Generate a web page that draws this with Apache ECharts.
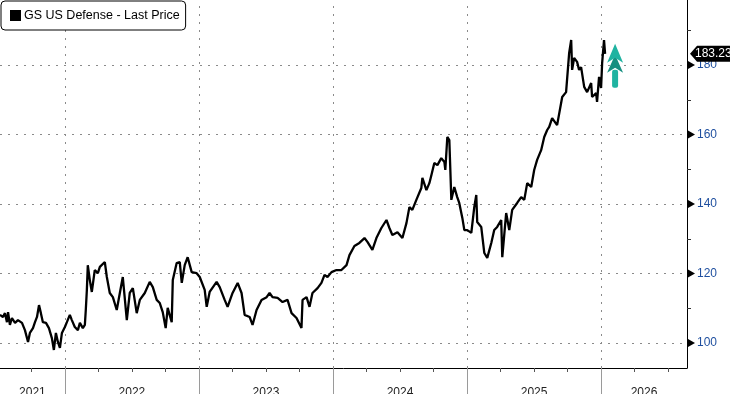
<!DOCTYPE html>
<html>
<head>
<meta charset="utf-8">
<script src="https://cdn.jsdelivr.net/npm/echarts@6/dist/echarts.min.js"></script>
<style>
html,body{margin:0;padding:0;background:#fff;}
#c{width:730px;height:394px;}
</style>
</head>
<body>
<div id="c"></div>
<script>
// ---- data (decimal year, last price) ----
const seriesName = 'GS US Defense - Last Price';
const years = [
2021.516,2021.538,2021.553,2021.568,2021.576,2021.590,2021.605,2021.628,2021.650,2021.680,
2021.702,2021.725,2021.739,2021.762,2021.777,2021.792,2021.807,2021.821,2021.836,2021.859,
2021.881,2021.903,2021.918,2021.933,2021.948,2021.963,2021.978,2022.000,2022.015,2022.037,
2022.052,2022.074,2022.097,2022.112,2022.134,2022.149,2022.156,2022.164,2022.171,2022.186,
2022.201,2022.223,2022.246,2022.261,2022.298,2022.313,2022.335,2022.358,2022.387,2022.410,
2022.432,2022.462,2022.484,2022.507,2022.536,2022.559,2022.596,2022.633,2022.656,2022.685,
2022.708,2022.730,2022.752,2022.767,2022.797,2022.805,2022.834,2022.857,2022.872,2022.894,
2022.916,2022.946,2022.983,2023.006,2023.043,2023.058,2023.080,2023.132,2023.155,2023.192,
2023.214,2023.251,2023.289,2023.318,2023.341,2023.378,2023.400,2023.430,2023.467,2023.505,
2023.527,2023.549,2023.587,2023.624,2023.661,2023.691,2023.728,2023.765,2023.773,2023.803,
2023.825,2023.847,2023.885,2023.914,2023.937,2023.959,2023.989,2024.026,2024.063,2024.101,
2024.123,2024.160,2024.197,2024.235,2024.257,2024.294,2024.324,2024.361,2024.399,2024.421,
2024.443,2024.481,2024.518,2024.548,2024.570,2024.592,2024.622,2024.659,2024.667,2024.697,
2024.719,2024.734,2024.756,2024.779,2024.808,2024.831,2024.838,2024.853,2024.868,2024.883,
2024.905,2024.927,2024.942,2024.965,2024.980,2025.002,2025.032,2025.054,2025.069,2025.076,
2025.106,2025.129,2025.151,2025.181,2025.203,2025.225,2025.255,2025.263,2025.292,2025.315,
2025.337,2025.374,2025.404,2025.427,2025.449,2025.479,2025.501,2025.523,2025.553,2025.576,
2025.598,2025.613,2025.635,2025.672,2025.710,2025.739,2025.762,2025.777,2025.784,2025.799,
2025.821,2025.836,2025.851,2025.874,2025.896,2025.926,2025.933,2025.963,2025.970,2025.985,
2026.000,2026.008,2026.022,2026.030
];
const prices = [
108.1,107.5,108.6,106.0,108.9,105.2,107.2,105.8,106.6,105.8,
103.7,100.3,102.9,104.3,106.0,107.5,110.9,108.6,106.0,105.8,
104.3,101.4,98.0,102.9,100.3,98.6,102.9,104.6,106.0,108.1,
106.6,104.6,103.7,105.8,104.3,105.2,109.5,115.3,122.4,118.1,
114.7,121.0,120.1,121.9,123.3,119.0,114.4,113.2,109.5,114.4,
119.0,106.6,114.4,115.8,108.6,112.4,114.4,117.6,116.1,112.4,
111.5,108.9,104.3,110.1,106.0,118.1,123.0,123.3,117.3,122.4,
124.7,120.4,120.1,119.0,115.3,110.4,114.7,117.6,116.1,112.4,
110.4,114.4,117.3,114.4,108.1,107.5,105.2,109.5,112.4,113.2,
114.4,113.2,113.0,111.8,112.4,108.6,107.2,104.3,112.4,113.2,
110.4,114.4,115.8,117.3,119.6,119.0,120.4,121.0,121.0,122.4,
125.3,127.9,128.8,130.2,129.1,126.8,130.2,133.1,135.4,133.1,
131.1,131.9,130.2,134.5,139.1,138.3,141.2,144.6,147.5,144.0,
146.0,148.3,151.8,151.2,153.2,152.1,149.8,159.3,158.4,141.2,
144.9,142.0,140.3,136.0,132.5,132.5,131.7,139.1,142.6,134.8,
133.4,125.9,124.5,128.8,132.5,133.4,135.4,124.7,137.4,132.5,
138.3,140.3,142.0,141.2,146.0,144.9,149.8,152.7,155.5,159.3,
161.3,162.2,164.7,162.7,170.8,172.2,183.5,187.2,178.6,182.0,
180.9,178.6,179.4,173.7,172.2,174.8,170.8,171.9,169.4,176.6,
173.4,180.6,187.2,183.23
];
// ---- axes ----
const yMajorTicks = [100, 120, 140, 160, 180];
const yMinorTicks = [110, 130, 150, 170, 190];
const yearStarts = [2022, 2023, 2024, 2025, 2026];
const yearLabels = ['2021', '2022', '2023', '2024', '2025', '2026'];
const xMin = 2021.516, xMax = 2026.641;
const yMin = 92.81, yMax = 198.71;

const FONT = 'Liberation Sans';
const quarterTicks = [];
for (let q = Math.ceil(xMin * 4) / 4; q <= xMax; q += 0.25) quarterTicks.push(q);
const yearMids = yearLabels.map(l => {
  const a = Math.max(+l, xMin), b = Math.min(+l + 1, xMax);
  return (a + b) / 2;
});

const dotted = { color: '#8a8a8a', width: 1, type: [2, 6] };
const markData = yMajorTicks.map(v => ({ yAxis: v }))
  .concat(yearStarts.map(v => ({ xAxis: v })));

const chart = echarts.init(document.getElementById('c'), null, { renderer: 'canvas' });
chart.setOption({
  animation: false,
  textStyle: { fontFamily: FONT },
  grid: { left: 0, right: 43, top: 0, bottom: 26, containLabel: false, outerBoundsMode: 'none' },
  legend: {
    left: 1, top: 1,
    data: [{ name: seriesName, icon: 'rect' }],
    itemWidth: 11, itemHeight: 11, itemGap: 5,
    backgroundColor: '#fff', borderColor: '#000', borderWidth: 1, borderRadius: 4,
    padding: [8, 6, 8, 9],
    textStyle: { fontFamily: FONT, fontSize: 12.5, color: '#000', padding: [0, 0, 0, -2] },
    selectedMode: false
  },
  xAxis: [{
    type: 'value', min: xMin, max: xMax,
    axisLine: { show: true, lineStyle: { color: '#000', width: 1 } },
    axisTick: { show: true, customValues: quarterTicks, length: 4, lineStyle: { color: '#555' } },
    axisLabel: {
      show: true, customValues: yearMids, margin: 19, fontSize: 12, color: '#222', fontFamily: FONT,
      formatter: v => yearLabels[Math.floor(v) - 2021]
    },
    splitLine: { show: false }
  }, {
    type: 'value', min: xMin, max: xMax, position: 'bottom',
    axisLine: { show: false },
    axisTick: { show: true, customValues: yearStarts, length: 28, lineStyle: { color: '#9a9a9a' } },
    axisLabel: { show: false },
    splitLine: { show: false }
  }],
  yAxis: {
    type: 'value', position: 'right', min: yMin, max: yMax,
    axisLine: { show: true, lineStyle: { color: '#000', width: 1 } },
    axisTick: { show: true, customValues: yMinorTicks, length: 4, lineStyle: { color: '#333' } },
    axisLabel: {
      show: true, customValues: yMajorTicks, margin: 10,
      color: '#1f4f9f', fontSize: 12, fontFamily: FONT
    },
    splitLine: { show: false }
  },
  series: [{
    name: seriesName,
    type: 'line',
    xAxisIndex: 0, yAxisIndex: 0,
    data: years.map((t, i) => [t, prices[i]]),
    showSymbol: false,
    symbol: 'none',
    itemStyle: { color: '#000' },
    lineStyle: { color: '#000', width: 2.3 },
    z: 5,
    markLine: {
      silent: true, symbol: ['none', 'none'], animation: false,
      label: { show: false },
      lineStyle: dotted,
      data: markData,
      z: 1
    }
  }]
});

// tick triangles, last price tag and annotation arrow, positioned through the axes
const lastIdx = prices.length - 1;
const p = chart.convertToPixel({ seriesIndex: 0 }, [years[lastIdx], prices[lastIdx]]);
const gx = chart.convertToPixel({ xAxisIndex: 0 }, xMax);
const py = p[1], px = p[0];
const ax = px + 10, ay = py - 10;
const tri = yMajorTicks.map(v => {
  const y = chart.convertToPixel({ yAxisIndex: 0 }, v);
  return { type: 'polygon', z: 90, shape: { points: [[gx + 1, y - 4], [gx + 8, y], [gx + 1, y + 4]] }, style: { fill: '#000' } };
});
chart.setOption({
  graphic: tri.concat([
    {
      type: 'polygon', z: 100,
      shape: { points: [[gx + 3, py], [gx + 10, py - 8], [gx + 45, py - 8], [gx + 45, py + 8], [gx + 10, py + 8]] },
      style: { fill: '#000' }
    },
    {
      type: 'text', z: 101, x: gx + 8, y: py,
      style: { text: prices[lastIdx].toFixed(2), fill: '#fff', font: '12px ' + FONT, verticalAlign: 'middle', align: 'left' }
    },
    {
      type: 'rect', z: 100,
      shape: { x: ax - 3, y: ay + 26, width: 6, height: 18, r: 2 },
      style: { fill: '#1fb3a1' }
    },
    {
      type: 'polygon', z: 101,
      shape: { points: [[ax, ay + 11], [ax + 8, ay + 29], [ax, ay + 24], [ax - 8, ay + 29]] },
      style: { fill: '#168f80' }
    },
    {
      type: 'polygon', z: 102,
      shape: { points: [[ax, ay], [ax + 8, ay + 19], [ax, ay + 14], [ax - 8, ay + 19]] },
      style: { fill: '#1fb3a1' }
    }
  ])
});
</script>
</body>
</html>
